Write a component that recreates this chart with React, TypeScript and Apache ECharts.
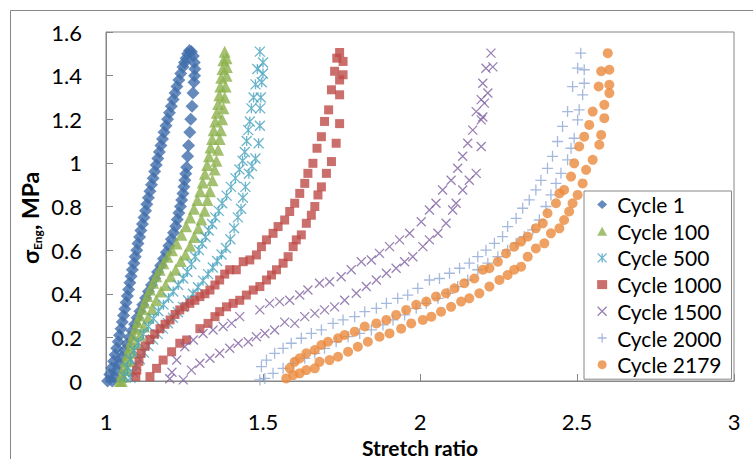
import React, { useEffect, useRef } from "react";
import * as echarts from "echarts";

type Pt = [number, number];

const seriesNames = ["Cycle 1", "Cycle 100", "Cycle 500", "Cycle 1000", "Cycle 1500", "Cycle 2000", "Cycle 2179"];

const xTicks = { min: 1, max: 3, interval: 0.5 };
const yTicks = { min: 0, max: 1.6, interval: 0.2 };

const cycle1Load: Pt[] = [
  [1.005, 0.0], [1.012, 0.03], [1.018, 0.06], [1.024, 0.09], [1.029, 0.12], [1.034, 0.15], [1.039, 0.18], [1.043, 0.21],
  [1.048, 0.24], [1.052, 0.27], [1.056, 0.3], [1.06, 0.33], [1.064, 0.36], [1.068, 0.39], [1.072, 0.42], [1.076, 0.45],
  [1.08, 0.48], [1.084, 0.51], [1.089, 0.54], [1.093, 0.57], [1.098, 0.6], [1.102, 0.63], [1.107, 0.66], [1.111, 0.69],
  [1.116, 0.72], [1.121, 0.75], [1.126, 0.78], [1.13, 0.81], [1.135, 0.84], [1.14, 0.87], [1.145, 0.9], [1.15, 0.93],
  [1.155, 0.96], [1.16, 0.99], [1.165, 1.02], [1.17, 1.05], [1.175, 1.08], [1.18, 1.11], [1.185, 1.14], [1.191, 1.17],
  [1.196, 1.2], [1.202, 1.23], [1.208, 1.26], [1.214, 1.29], [1.22, 1.32], [1.226, 1.35], [1.232, 1.38], [1.238, 1.41],
  [1.245, 1.44], [1.25, 1.46], [1.255, 1.48], [1.26, 1.5], [1.266, 1.515],
];
const cycle1Unload: Pt[] = [
  [1.272, 1.51], [1.278, 1.49], [1.281, 1.46], [1.283, 1.43], [1.282, 1.4], [1.28, 1.37], [1.277, 1.32], [1.274, 1.26],
  [1.27, 1.2], [1.267, 1.14], [1.263, 1.08], [1.26, 1.03], [1.257, 0.98], [1.254, 0.95], [1.251, 0.92], [1.248, 0.89],
  [1.245, 0.86], [1.241, 0.83], [1.237, 0.8], [1.232, 0.77], [1.227, 0.74], [1.222, 0.71], [1.215, 0.68], [1.208, 0.65],
  [1.2, 0.62], [1.192, 0.59], [1.183, 0.56], [1.174, 0.53], [1.164, 0.5], [1.155, 0.47], [1.145, 0.44], [1.135, 0.41],
  [1.126, 0.38], [1.117, 0.35], [1.108, 0.32], [1.099, 0.29], [1.091, 0.26], [1.083, 0.23], [1.075, 0.2], [1.067, 0.17],
  [1.059, 0.14], [1.051, 0.11], [1.043, 0.08], [1.035, 0.05], [1.027, 0.02], [1.02, 0.0],
];

const cycle100Load: Pt[] = [
  [1.044, 0.0], [1.05, 0.03], [1.056, 0.06], [1.062, 0.09], [1.068, 0.12], [1.074, 0.15], [1.08, 0.18], [1.086, 0.21],
  [1.093, 0.24], [1.1, 0.27], [1.107, 0.3], [1.115, 0.33], [1.123, 0.36], [1.131, 0.39], [1.14, 0.42], [1.15, 0.45],
  [1.16, 0.48], [1.171, 0.51], [1.183, 0.54], [1.196, 0.57], [1.21, 0.6], [1.225, 0.63], [1.24, 0.67], [1.255, 0.71],
  [1.268, 0.75], [1.28, 0.79], [1.291, 0.83], [1.3, 0.87], [1.308, 0.91], [1.315, 0.95], [1.322, 0.99], [1.328, 1.03],
  [1.333, 1.07], [1.338, 1.11], [1.343, 1.15], [1.348, 1.19], [1.353, 1.23], [1.357, 1.27], [1.361, 1.31], [1.364, 1.35],
  [1.367, 1.39], [1.371, 1.43], [1.374, 1.47], [1.378, 1.51],
];
const cycle100Unload: Pt[] = [
  [1.384, 1.48], [1.385, 1.44], [1.384, 1.4], [1.381, 1.35], [1.378, 1.3], [1.374, 1.25], [1.37, 1.2], [1.366, 1.15],
  [1.362, 1.11], [1.357, 1.06], [1.352, 1.01], [1.346, 0.97], [1.339, 0.92], [1.331, 0.87], [1.323, 0.83], [1.314, 0.78],
  [1.304, 0.74], [1.294, 0.7], [1.281, 0.66], [1.268, 0.62], [1.253, 0.58], [1.238, 0.55], [1.222, 0.51], [1.206, 0.48],
  [1.19, 0.44], [1.175, 0.41], [1.16, 0.37], [1.147, 0.33], [1.134, 0.29], [1.121, 0.25], [1.109, 0.21], [1.098, 0.17],
  [1.087, 0.13], [1.076, 0.09], [1.066, 0.05], [1.056, 0.02], [1.05, 0.0],
];

const cycle500Load: Pt[] = [
  [1.058, 0.02], [1.068, 0.06], [1.078, 0.1], [1.09, 0.14], [1.103, 0.175], [1.119, 0.215], [1.135, 0.25], [1.151, 0.285],
  [1.167, 0.32], [1.183, 0.35], [1.199, 0.38], [1.214, 0.41], [1.23, 0.44], [1.246, 0.47], [1.259, 0.5], [1.272, 0.535],
  [1.284, 0.57], [1.296, 0.6], [1.306, 0.63], [1.317, 0.66], [1.327, 0.69], [1.338, 0.72], [1.348, 0.75], [1.359, 0.78],
  [1.37, 0.815], [1.384, 0.85], [1.398, 0.89], [1.412, 0.93], [1.425, 0.97], [1.435, 1.01], [1.442, 1.05], [1.448, 1.1],
  [1.453, 1.15], [1.458, 1.19], [1.463, 1.25], [1.47, 1.3], [1.476, 1.36], [1.482, 1.43], [1.49, 1.51],
];
const cycle500Unload: Pt[] = [
  [1.5, 1.46], [1.5, 1.41], [1.496, 1.37], [1.493, 1.3], [1.491, 1.25], [1.49, 1.17], [1.486, 1.09], [1.476, 1.02],
  [1.465, 0.985], [1.455, 0.95], [1.444, 0.89], [1.436, 0.84], [1.43, 0.79], [1.42, 0.75], [1.408, 0.7], [1.396, 0.65],
  [1.382, 0.61], [1.368, 0.58], [1.354, 0.55], [1.34, 0.52], [1.325, 0.49], [1.309, 0.46], [1.293, 0.43], [1.277, 0.4],
  [1.261, 0.37], [1.245, 0.34], [1.229, 0.315], [1.213, 0.29], [1.197, 0.265], [1.181, 0.24], [1.165, 0.215], [1.15, 0.19],
  [1.135, 0.16], [1.121, 0.13], [1.108, 0.1], [1.096, 0.07], [1.086, 0.04], [1.078, 0.015],
];

const cycle1000Load: Pt[] = [
  [1.095, 0.02], [1.098, 0.05], [1.105, 0.09], [1.112, 0.127], [1.125, 0.16], [1.14, 0.19], [1.155, 0.215], [1.172, 0.24],
  [1.188, 0.26], [1.204, 0.28], [1.22, 0.305], [1.235, 0.326], [1.251, 0.34], [1.267, 0.356], [1.283, 0.37], [1.299, 0.387],
  [1.315, 0.4], [1.331, 0.417], [1.347, 0.44], [1.362, 0.463], [1.378, 0.49], [1.394, 0.51], [1.415, 0.51], [1.437, 0.547],
  [1.458, 0.555], [1.479, 0.578], [1.495, 0.616], [1.511, 0.647], [1.532, 0.677], [1.548, 0.708], [1.569, 0.738],
  [1.585, 0.777], [1.601, 0.815], [1.617, 0.86], [1.633, 0.906], [1.643, 0.952], [1.659, 0.998], [1.672, 1.067],
  [1.686, 1.12], [1.696, 1.19], [1.709, 1.243], [1.718, 1.335], [1.728, 1.42], [1.735, 1.48], [1.744, 1.506],
];
const cycle1000Unload: Pt[] = [
  [1.755, 1.465], [1.755, 1.404], [1.744, 1.38], [1.744, 1.312], [1.744, 1.18], [1.733, 1.09], [1.718, 1.006],
  [1.702, 0.952], [1.686, 0.89], [1.675, 0.853], [1.665, 0.8], [1.654, 0.76], [1.638, 0.723], [1.622, 0.67],
  [1.606, 0.647], [1.596, 0.616], [1.58, 0.57], [1.564, 0.54], [1.543, 0.51], [1.527, 0.486], [1.511, 0.463],
  [1.49, 0.433], [1.469, 0.417], [1.447, 0.394], [1.426, 0.37], [1.405, 0.356], [1.384, 0.34], [1.362, 0.318],
  [1.347, 0.295], [1.325, 0.264], [1.299, 0.24], [1.257, 0.188], [1.235, 0.173], [1.209, 0.134], [1.182, 0.096],
  [1.161, 0.058], [1.14, 0.02],
];

const cycle1500Load: Pt[] = [
  [1.203, 0.01], [1.21, 0.04], [1.225, 0.096], [1.251, 0.157], [1.278, 0.188], [1.309, 0.218], [1.341, 0.234],
  [1.373, 0.25], [1.4, 0.264], [1.426, 0.295], [1.49, 0.326], [1.521, 0.356], [1.553, 0.364], [1.585, 0.37],
  [1.617, 0.394], [1.643, 0.417], [1.68, 0.448], [1.712, 0.455], [1.749, 0.478], [1.781, 0.51], [1.813, 0.547],
  [1.845, 0.555], [1.871, 0.585], [1.903, 0.616], [1.935, 0.647], [1.967, 0.677], [2.004, 0.73], [2.03, 0.784],
  [2.051, 0.815], [2.072, 0.876], [2.099, 0.92], [2.12, 0.975], [2.136, 1.03], [2.152, 1.09], [2.168, 1.15],
  [2.179, 1.235], [2.195, 1.29], [2.2, 1.365], [2.21, 1.434], [2.226, 1.503],
];
const cycle1500Unload: Pt[] = [
  [2.232, 1.44], [2.216, 1.32], [2.205, 1.274], [2.2, 1.21], [2.195, 1.197], [2.195, 1.075], [2.179, 0.952],
  [2.157, 0.92], [2.136, 0.876], [2.115, 0.815], [2.104, 0.784], [2.083, 0.723], [2.057, 0.677], [2.03, 0.647],
  [2.009, 0.616], [1.977, 0.57], [1.951, 0.547], [1.924, 0.517], [1.893, 0.494], [1.861, 0.463], [1.829, 0.433],
  [1.797, 0.402], [1.76, 0.37], [1.728, 0.34], [1.696, 0.326], [1.665, 0.31], [1.633, 0.295], [1.601, 0.264],
  [1.569, 0.27], [1.537, 0.234], [1.506, 0.218], [1.479, 0.203], [1.453, 0.18], [1.421, 0.173], [1.394, 0.15],
  [1.362, 0.127], [1.331, 0.104], [1.299, 0.081], [1.272, 0.05], [1.246, 0.005],
];

const cycle2000Load: Pt[] = [
  [1.49, 0.005], [1.495, 0.066], [1.511, 0.096], [1.537, 0.127], [1.564, 0.15], [1.59, 0.173], [1.622, 0.196],
  [1.654, 0.218], [1.686, 0.234], [1.723, 0.264], [1.755, 0.28], [1.792, 0.295], [1.824, 0.318], [1.861, 0.333],
  [1.893, 0.356], [1.929, 0.379], [1.961, 0.394], [1.993, 0.425], [2.03, 0.463], [2.062, 0.47], [2.094, 0.494],
  [2.126, 0.517], [2.157, 0.54], [2.184, 0.57], [2.21, 0.6], [2.237, 0.631], [2.263, 0.662], [2.279, 0.708],
  [2.306, 0.746], [2.327, 0.792], [2.348, 0.83], [2.369, 0.876], [2.385, 0.92], [2.406, 0.975], [2.422, 1.03],
  [2.438, 1.098], [2.454, 1.167], [2.47, 1.235], [2.486, 1.35], [2.502, 1.434], [2.512, 1.503],
];
const cycle2000Unload: Pt[] = [
  [2.523, 1.427], [2.523, 1.365], [2.518, 1.312], [2.507, 1.243], [2.502, 1.197], [2.491, 1.113], [2.481, 1.067],
  [2.47, 1.014], [2.449, 0.952], [2.433, 0.906], [2.417, 0.853], [2.401, 0.8], [2.38, 0.738], [2.359, 0.693],
  [2.332, 0.662], [2.306, 0.631], [2.279, 0.6], [2.248, 0.57], [2.216, 0.54], [2.184, 0.51], [2.152, 0.463],
  [2.12, 0.433], [2.089, 0.402], [2.057, 0.379], [2.02, 0.356], [1.988, 0.333], [1.951, 0.303], [1.914, 0.28],
  [1.882, 0.257], [1.845, 0.234], [1.808, 0.218], [1.771, 0.203], [1.733, 0.18], [1.696, 0.15], [1.665, 0.127],
  [1.633, 0.104], [1.596, 0.081], [1.564, 0.058], [1.532, 0.035], [1.506, 0.012],
];

const cycle2179Load: Pt[] = [
  [1.574, 0.012], [1.585, 0.058], [1.601, 0.088], [1.617, 0.104], [1.638, 0.127], [1.665, 0.142], [1.686, 0.165],
  [1.707, 0.18], [1.739, 0.196], [1.76, 0.211], [1.792, 0.226], [1.824, 0.25], [1.861, 0.264], [1.893, 0.28],
  [1.924, 0.303], [1.956, 0.326], [1.988, 0.349], [2.02, 0.364], [2.051, 0.387], [2.083, 0.402], [2.11, 0.425],
  [2.141, 0.448], [2.173, 0.47], [2.2, 0.51], [2.221, 0.517], [2.248, 0.547], [2.274, 0.585], [2.3, 0.616],
  [2.322, 0.639], [2.343, 0.662], [2.369, 0.7], [2.391, 0.723], [2.406, 0.769], [2.433, 0.815], [2.444, 0.86],
  [2.459, 0.876], [2.481, 0.937], [2.491, 0.998], [2.507, 1.075], [2.523, 1.12], [2.539, 1.174], [2.55, 1.235],
  [2.569, 1.35], [2.577, 1.42], [2.598, 1.503],
];
const cycle2179Unload: Pt[] = [
  [2.603, 1.427], [2.603, 1.358], [2.603, 1.32], [2.587, 1.266], [2.587, 1.205], [2.577, 1.128], [2.571, 1.083],
  [2.55, 1.014], [2.529, 0.968], [2.518, 0.906], [2.502, 0.853], [2.486, 0.815], [2.475, 0.777], [2.459, 0.738],
  [2.444, 0.7], [2.417, 0.677], [2.396, 0.631], [2.369, 0.608], [2.343, 0.57], [2.322, 0.524], [2.3, 0.51],
  [2.279, 0.486], [2.253, 0.463], [2.221, 0.433], [2.189, 0.402], [2.157, 0.379], [2.131, 0.364], [2.099, 0.34],
  [2.067, 0.318], [2.036, 0.295], [2.009, 0.28], [1.972, 0.264], [1.94, 0.24], [1.903, 0.218], [1.871, 0.203],
  [1.834, 0.18], [1.802, 0.157], [1.771, 0.134], [1.739, 0.111], [1.712, 0.096], [1.68, 0.088], [1.665, 0.058],
  [1.638, 0.05], [1.617, 0.035], [1.596, 0.027],
];

const seriesData: Pt[][] = [
  [...cycle1Load, ...cycle1Unload],
  [...cycle100Load, ...cycle100Unload],
  [...cycle500Load, ...cycle500Unload],
  [...cycle1000Load, ...cycle1000Unload],
  [...cycle1500Load, ...cycle1500Unload],
  [...cycle2000Load, ...cycle2000Unload],
  [...cycle2179Load, ...cycle2179Unload],
];

const colors = ["#3E6DAA", "#8DB24E", "#46A3BE", "#BE4B48", "#7F62A1", "#8EA8D5", "#EB8A3C"];
const X_PATH = "path://M0,0L10,10M10,0L0,10";
const STAR_PATH = "path://M0,0L10,10M10,0L0,10M5,0L5,10";
const PLUS_PATH = "path://M5,0L5,10M0,5L10,5";
const symbols = ["diamond", "triangle", STAR_PATH, "rect", X_PATH, PLUS_PATH, "circle"];
const sizes = [13, 12, 10, 9, 9, 11, 10];
const stroked = [false, false, true, false, true, true, false];

const FONT = "Lato, 'Open Sans', sans-serif";

export default function App() {
  const ref = useRef<HTMLDivElement>(null);
  useEffect(() => {
    if (!ref.current) return;
    const chart = echarts.init(ref.current, undefined, { renderer: "svg" });
    const itemStyleFor = (i: number) =>
      stroked[i]
        ? { color: "rgba(0,0,0,0)", borderColor: colors[i], borderWidth: 1.3 }
        : { color: colors[i] };
    chart.setOption({
      animation: false,
      backgroundColor: "#ffffff",
      grid: {
        left: 106,
        right: 19,
        top: 32,
        bottom: 78,
        containLabel: false,
        outerBoundsMode: "none",
        show: true,
        borderColor: "#868686",
        borderWidth: 1,
        backgroundColor: "transparent",
      },
      xAxis: {
        type: "value",
        min: xTicks.min,
        max: xTicks.max,
        interval: xTicks.interval,
        axisLine: { show: true, lineStyle: { color: "#868686", width: 1 } },
        axisTick: { show: true, inside: true, length: 7, lineStyle: { color: "#868686" } },
        splitLine: { show: false },
        axisLabel: { fontSize: 22, color: "#000", fontFamily: FONT, margin: 29 },
        name: "Stretch ratio",
        nameLocation: "middle",
        nameGap: 50,
        nameTextStyle: { fontSize: 21, fontWeight: "bold", fontFamily: FONT, color: "#000" },
      },
      yAxis: {
        type: "value",
        min: yTicks.min,
        max: yTicks.max,
        interval: yTicks.interval,
        axisLine: { show: true, lineStyle: { color: "#868686", width: 1 } },
        axisTick: { show: true, inside: true, length: 7, lineStyle: { color: "#868686" } },
        splitLine: { show: false },
        axisLabel: { fontSize: 22, color: "#000", fontFamily: FONT, margin: 24 },
      },
      legend: {
        orient: "vertical",
        left: 584,
        top: 191,
        padding: [3, 10, 4, 13],
        itemGap: 5.7,
        itemWidth: 10,
        itemHeight: 9,
        symbolKeepAspect: true,
        backgroundColor: "#ffffff",
        borderColor: "#868686",
        borderWidth: 1,
        borderRadius: 0,
        textStyle: { fontSize: 21, lineHeight: 21, color: "#000", fontFamily: FONT, padding: [0, 0, 0, 5] },
        data: seriesNames.map((n, i) => ({ name: n, icon: symbols[i], itemStyle: itemStyleFor(i) })),
      },
      graphic: [
        {
          type: "rect",
          silent: true,
          z: -10,
          shape: { x: 10.5, y: 10.5, width: 800, height: 500 },
          style: { fill: "none", stroke: "#878787", lineWidth: 1 },
        },
        {
          type: "group",
          x: 41,
          y: 264,
          rotation: Math.PI / 2,
          children: [
            {
              type: "text",
              x: 0,
              y: 0,
              style: { text: "σ", fontSize: 23, fontWeight: "bold", fontFamily: FONT, fill: "#000", align: "left", verticalAlign: "bottom" },
            },
            {
              type: "text",
              x: 14,
              y: 2,
              style: { text: "Eng", fontSize: 12, fontWeight: "bold", fontFamily: FONT, fill: "#000", align: "left", verticalAlign: "bottom" },
            },
            {
              type: "text",
              x: 34,
              y: 0,
              style: { text: ", MPa", fontSize: 23, fontWeight: "bold", fontFamily: FONT, fill: "#000", align: "left", verticalAlign: "bottom" },
            },
          ],
        },
      ],
      series: seriesNames.map((n, i) => ({
        name: n,
        type: "scatter",
        data: seriesData[i],
        symbol: symbols[i],
        symbolSize: sizes[i],
        itemStyle: itemStyleFor(i),
        emphasis: { disabled: true },
      })),
    });
    return () => chart.dispose();
  }, []);
  return <div ref={ref} style={{ position: "absolute", left: 0, top: 0, width: 753, height: 459 }} />;
}
